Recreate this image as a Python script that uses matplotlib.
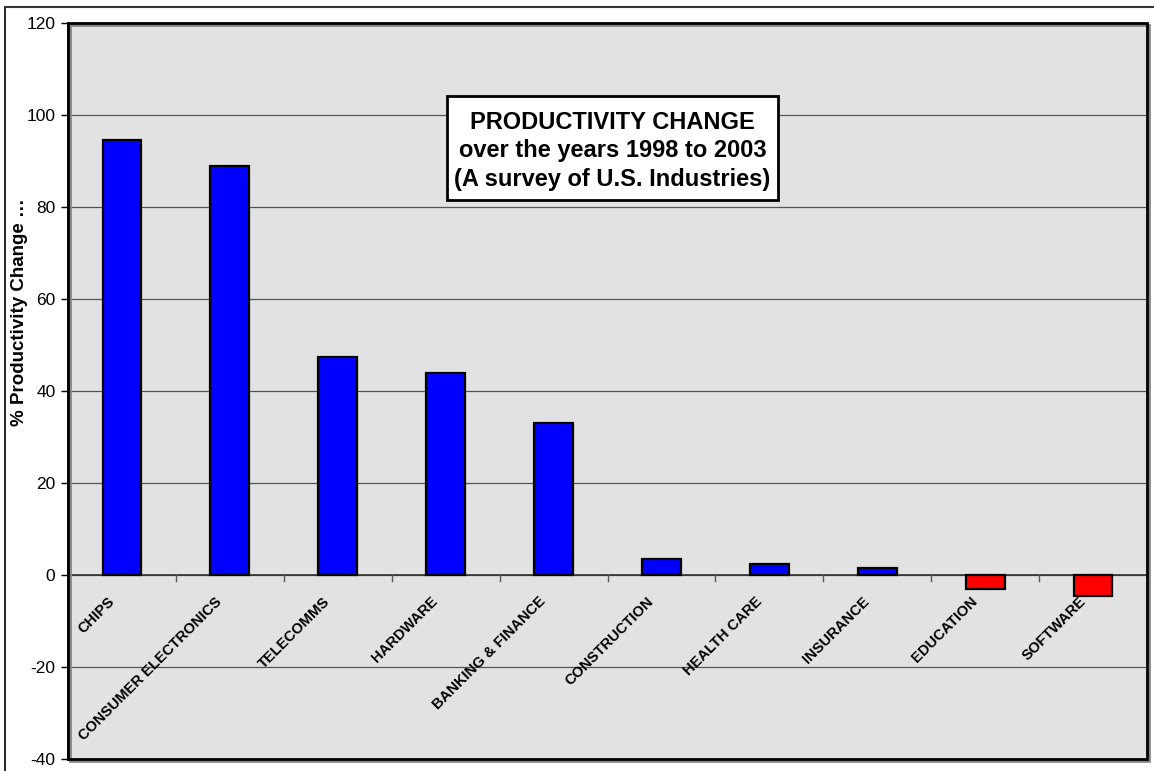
import matplotlib
matplotlib.use("Agg")
import matplotlib.pyplot as plt
from matplotlib.patches import Rectangle
from matplotlib.lines import Line2D

plt.rcParams['font.family'] = ['Liberation Sans', 'DejaVu Sans']

categories = ["CHIPS", "CONSUMER ELECTRONICS", "TELECOMMS", "HARDWARE",
              "BANKING & FINANCE", "CONSTRUCTION", "HEALTH CARE", "INSURANCE",
              "EDUCATION", "SOFTWARE"]
values = [94.5, 88.9, 47.5, 44.0, 33.0, 3.5, 2.5, 1.5, -3.0, -4.6]
yticks = [-40, -20, 0, 20, 40, 60, 80, 100, 120]
title_lines = ["PRODUCTIVITY CHANGE", "over the years 1998 to 2003", "(A survey of U.S. Industries)"]
ylabel = "% Productivity Change \u2026"

W, H = 1154, 771
AX_L, AX_R, AX_T, AX_B = 68, 1147, 23, 759
fig = plt.figure(figsize=(W / 100, H / 100), dpi=100)
fig.patch.set_facecolor("white")
ax = fig.add_axes([AX_L / W, 1 - AX_B / H, (AX_R - AX_L) / W, (AX_B - AX_T) / H])
ax.set_facecolor("#E2E2E2")

def axfrac(px, py):
    return (px - AX_L) / (AX_R - AX_L), (AX_B - py) / (AX_B - AX_T)

colors = ["#0000FF" if v >= 0 else "#FF0000" for v in values]
x = list(range(len(categories)))
ax.bar(x, values, width=0.36, color=colors, edgecolor="black", linewidth=1.6, zorder=3)

ax.set_xlim(-0.5, len(categories) - 0.5)
ax.set_ylim(-40, 120)
ax.set_yticks(yticks)
ax.set_yticklabels([str(t) for t in yticks], fontsize=12.5)
ax.yaxis.grid(True, color="#555555", linewidth=0.9, zorder=1)
ax.set_axisbelow(True)
ax.tick_params(axis="y", direction="out", length=5, width=1, pad=4)

for s in ["top", "right", "bottom"]:
    ax.spines[s].set_visible(False)
ax.spines["left"].set_linewidth(1.8)
ax.axhline(0, color="#333333", linewidth=1.2, zorder=2)
ax.set_xticks([])
for i in range(len(categories) - 1):
    ax.plot([i + 0.5, i + 0.5], [0, -1.3], color="#555555", linewidth=1, zorder=2)

for i, c in enumerate(categories):
    ax.annotate(c, xy=(i, 0), xytext=(-3.5, -14), textcoords="offset points",
                rotation=45, ha="right", va="top", fontsize=10.6, fontweight="bold",
                zorder=4)

# plot-area frame with slight shadow
ax.add_patch(Rectangle((0.002, -0.003), 1, 1, transform=ax.transAxes, fill=False,
                       edgecolor="#888888", linewidth=2, clip_on=False, zorder=4))
ax.add_patch(Rectangle((0, 0), 1, 1, transform=ax.transAxes, fill=False,
                       edgecolor="black", linewidth=2, clip_on=False, zorder=5))

# title box
bx0, by0 = axfrac(447, 200)
bx1, by1 = axfrac(778, 96)
ax.add_patch(Rectangle((bx0, by0), bx1 - bx0, by1 - by0, transform=ax.transAxes,
                       facecolor="white", edgecolor="black", linewidth=2, zorder=6))
tx, ty = axfrac(612.5, 151)
ax.text(tx, ty, "\n".join(title_lines), transform=ax.transAxes, ha="center",
        va="center", fontsize=17, fontweight="bold", linespacing=1.32, zorder=7)

fig.text(20 / W, 1 - 312 / H, ylabel, rotation=90, ha="center", va="center",
         fontsize=13.5, fontweight="bold")

# figure border (left and top visible)
fig.add_artist(Line2D([5 / W, 5 / W], [0, 1 - 7 / H], transform=fig.transFigure,
                      color="black", linewidth=1.2))
fig.add_artist(Line2D([5 / W, 1], [1 - 7 / H, 1 - 7 / H], transform=fig.transFigure,
                      color="#333333", linewidth=1.5))

fig.savefig("out.png", dpi=100)
